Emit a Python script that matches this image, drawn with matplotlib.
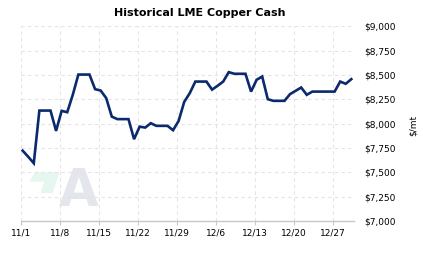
import matplotlib
matplotlib.use('Agg')
import matplotlib.pyplot as plt
import numpy as np
from matplotlib.patches import Polygon

# Daily LME copper cash price, Nov 1 - Dec 30 (weekends/holidays carry last value)
prices = [7723, 7660, 7594, 8135, 8135, 8135, 7926, 8132, 8118, 8297,
          8505, 8505, 8505, 8355, 8341, 8263, 8073, 8047, 8047, 8047,
          7841, 7970, 7960, 8005, 7978, 7978, 7978, 7933, 8029, 8224,
          8314, 8433, 8433, 8433, 8350, 8390, 8433, 8530, 8513, 8513,
          8513, 8330, 8451, 8485, 8252, 8235, 8235, 8235, 8304, 8338,
          8372, 8297, 8330, 8330, 8330, 8330, 8330, 8433, 8410, 8458]
x_tick_labels = ['11/1', '11/8', '11/15', '11/22', '11/29', '12/6', '12/13', '12/20', '12/27']
y_ticks = [7000, 7250, 7500, 7750, 8000, 8250, 8500, 8750, 9000]
title = 'Historical LME Copper Cash'
y_label = '$/mt'

W, H = 423, 257
fig = plt.figure(figsize=(W / 100, H / 100), dpi=100)
fig.patch.set_facecolor('white')
ax = fig.add_axes([20.7 / W, 1 - 221 / H, (354 - 20.7) / W, (221 - 26.4) / H])

days = np.arange(len(prices)) + 0.35
ax.plot(days, prices, color='#0b2a6e', lw=1.9, solid_joinstyle='miter', zorder=3)

ax.set_xlim(0, 59.83)
ax.set_ylim(7000, 9000)
ax.set_xticks(np.arange(len(x_tick_labels)) * 7)
ax.set_xticklabels(x_tick_labels)
ax.set_yticks(y_ticks)
ax.set_yticklabels(['${:,}'.format(v) for v in y_ticks])

ax.yaxis.tick_right()
ax.tick_params(axis='y', length=0, pad=7.5, labelsize=6.5, labelcolor='black')
ax.tick_params(axis='x', length=3, width=0.8, color='#c8c8c8', pad=2.5,
               labelsize=6.5, labelcolor='black')

ax.grid(True, color='#e4e4e4', ls=(0, (3, 3)), lw=0.8, zorder=2)
ax.set_axisbelow(True)
for s in ['left', 'right', 'top']:
    ax.spines[s].set_visible(False)
ax.spines['bottom'].set_color('#c8c8c8')
ax.spines['bottom'].set_linewidth(1.0)

# watermark logo
def fp(px, py):
    return (px / W, 1 - py / H)

green = Polygon([fp(35, 172.3), fp(59.3, 172.3), fp(52.7, 193.3), fp(40.7, 193.3),
                 fp(44, 181.7), fp(29.3, 181.7)], closed=True,
                transform=fig.transFigure, facecolor='#e6f7f0', edgecolor='none', zorder=0.5)
ax.add_artist(green)
ax.text(78.3 / W, 1 - 191.5 / H, 'A', fontsize=37, fontweight='bold', color='#e3e6eb',
        ha='center', va='center', zorder=0.5, transform=fig.transFigure)

fig.text(200 / W, 1 - 13 / H, title, fontsize=8, fontweight='bold', ha='center', va='center')
fig.text(413 / W, 1 - 125 / H, y_label, fontsize=6.5, rotation=90, ha='center', va='center')

fig.savefig('out.png', dpi=100, facecolor='white')
